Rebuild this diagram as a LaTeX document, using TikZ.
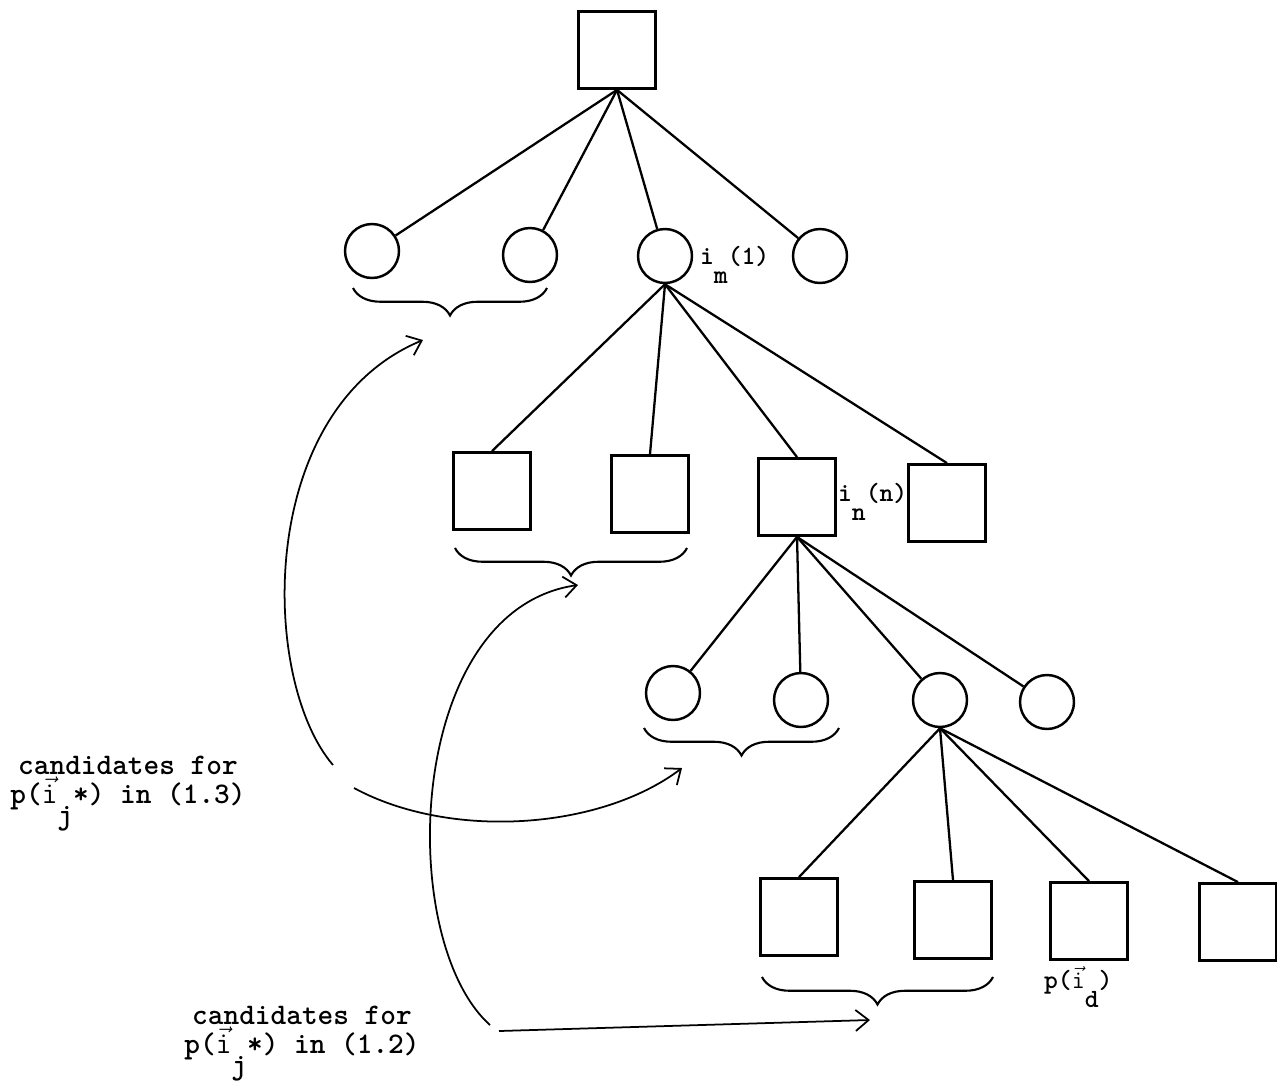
\documentclass[tikz,border=0pt]{standalone}
\usetikzlibrary{arrows.meta,decorations.pathreplacing,positioning}
\newcommand{\lowsub}[1]{\raisebox{-0.7em}{#1}}
\newcommand{\veci}{$\vec{\mathtt{i}}$}
\begin{document}
\begin{tikzpicture}[x=0.02cm, y=-0.02cm, >={Straight Barb[length=2.6mm,width=4.2mm]},
        box/.style={draw, line width=1.6pt, minimum size=1.54cm, inner sep=0pt},
        ring/.style={draw, circle, line width=1.4pt, minimum size=1.08cm, inner sep=0pt},
        edge/.style={line width=1.3pt},
        brc/.style={decorate, decoration={brace, mirror, amplitude=0.55cm}, line width=1.2pt},
        link/.style={->, line width=1pt},
        lbl/.style={font=\ttfamily\bfseries\fontsize{15}{18}\selectfont, inner sep=1pt},
        cand/.style={lbl, align=center, font=\ttfamily\bfseries\fontsize{17}{13.5}\selectfont}]
                \useasboundingbox (0,0) rectangle (1277,1086);

                % Nodes
                \node[box] at (617,50) (root) {};

                \node[ring] at (372,251) (a1) {};
                \node[ring] at (530,255) (a2) {};
                \node[ring] at (665,256) (a3) {};
                \node[ring] at (820,256) (a4) {};

                \node[box] at (492,491) (b1) {};
                \node[box] at (650,494) (b2) {};
                \node[box] at (797,497) (b3) {};
                \node[box] at (947,503) (b4) {};

                \node[ring] at (673,693) (c1) {};
                \node[ring] at (801,700) (c2) {};
                \node[ring] at (940,700) (c3) {};
                \node[ring] at (1047,702) (c4) {};

                \node[box] at (799,917) (d1) {};
                \node[box] at (953,920) (d2) {};
                \node[box] at (1089,921) (d3) {};
                \node[box] at (1238,922) (d4) {};

                % Labels
                \node[lbl, anchor=west] at (698,265) (im) {i\lowsub{m}(1)};
                \node[lbl, anchor=west] at (836,502) (in) {i\lowsub{n}(n)};
                \node[lbl, anchor=north west] at (1042,964) (pid) {p(\veci\lowsub{d})};
                \node[cand] at (128,794) (cand13) {candidates for\\p(\veci\lowsub{j}*) in (1.3)};
                \node[cand] at (302,1044) (cand12) {candidates for\\p(\veci\lowsub{j}*) in (1.2)};

                % Edges
                \draw[edge] (root.south) -- (a1);
                \draw[edge] (root.south) -- (a2);
                \draw[edge] (root.south) -- (a3);
                \draw[edge] (root.south) -- (a4);

                \draw[edge] (a3.south) -- (b1.north);
                \draw[edge] (a3.south) -- (b2.north);
                \draw[edge] (a3.south) -- (b3.north);
                \draw[edge] (a3.south) -- (b4.north);

                \draw[edge] (b3.south) -- (c1);
                \draw[edge] (b3.south) -- (c2);
                \draw[edge] (b3.south) -- (c3);
                \draw[edge] (b3.south) -- (c4);

                \draw[edge] (c3.south) -- (d1.north);
                \draw[edge] (c3.south) -- (d2.north);
                \draw[edge] (c3.south) -- (d3.north);
                \draw[edge] (c3.south) -- (d4.north);

                % Braces
                \draw[brc] (353,288) -- (547,288);
                \draw[brc] (455,548) -- (687,548);
                \draw[brc] (644,728) -- (839,728);
                \draw[brc] (762,977) -- (993,977);

                % Pointers
                \coordinate (p13a) at (333,765);
                \coordinate (p13b) at (354,788);
                \coordinate (p12a) at (490,1025);
                \coordinate (p12b) at (499,1031);
                \coordinate (q1) at (423,340);
                \coordinate (q2) at (578,585);
                \coordinate (q3) at (682,768);
                \coordinate (q4) at (870,1020);

                \draw[link] (p13a) .. controls (260,680) and (255,410) .. (q1);

                \draw[link] (p13b) .. controls (450,840) and (600,830) .. (q3);

                \draw[link] (p12a) .. controls (395,940) and (405,610) .. (q2);

                \draw[link] (p12b) -- (q4);
            \end{tikzpicture}
\end{document}
